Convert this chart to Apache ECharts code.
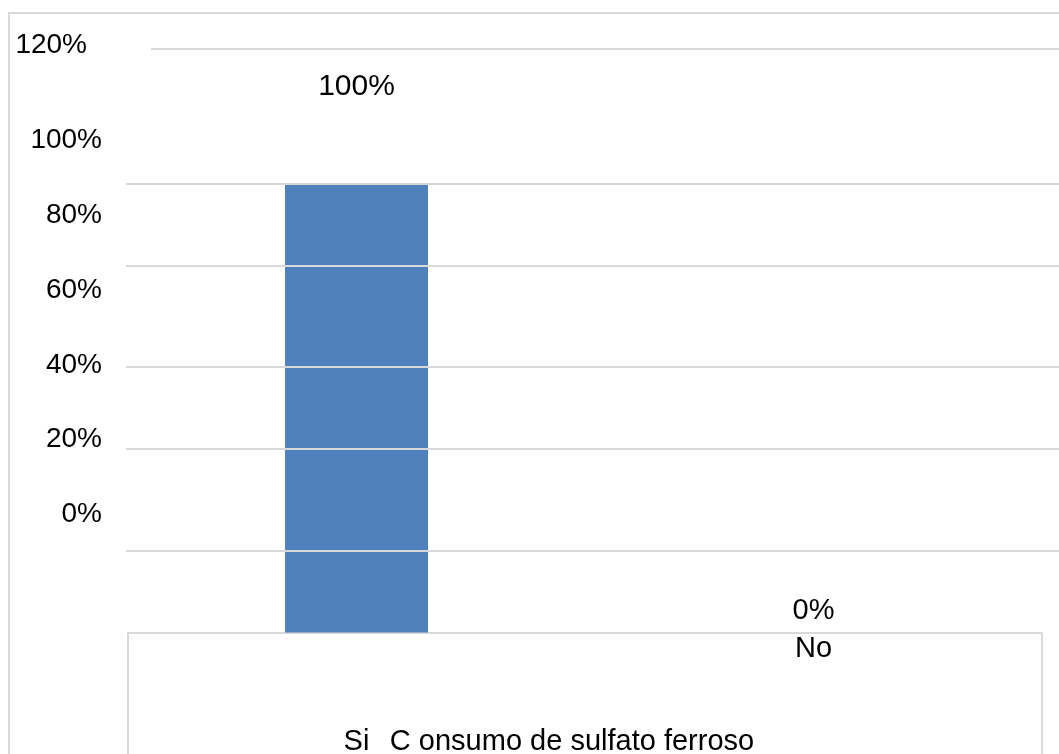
<!DOCTYPE html>
<html>
<head>
<meta charset="utf-8">
<script src="https://cdn.jsdelivr.net/npm/echarts@6/dist/echarts.min.js"></script>
<style>
  html, body { margin: 0; padding: 0; background: #fff; }
  #chart { width: 1059px; height: 754px; }
</style>
</head>
<body>
<div id="chart"></div>
<script>
// datos
const categories = ['Si', 'No'];
const percentages = [100, 0];
const yTickValues = [0, 20, 40, 60, 80, 100];
const topTickLabel = '120%';
const axisTitle = 'C onsumo de sulfato ferroso';
// lineas de la cuadricula (en % de la escala de las barras)
const gridLevels = [18.2, 41, 59.3, 81.8, 100.1, 130.3];

const FONT = "'Liberation Sans', Arial, sans-serif";
const GRAY = '#d9d9d9';

const chart = echarts.init(document.getElementById('chart'));

const option = {
  animation: false,
  textStyle: { fontFamily: FONT, color: '#000' },
  graphic: [
    {
      // marco exterior (solo se ven arriba e izquierda)
      type: 'rect',
      shape: { x: 9, y: 13, width: 1200, height: 900 },
      style: { fill: 'none', stroke: GRAY, lineWidth: 2 },
      silent: true
    }
  ],
  grid: [
    { left: 128, right: 17, top: 41, bottom: 121.5, outerBoundsMode: 'none' },
    { left: 110, width: 10, top: 140.6, bottom: 239.5, outerBoundsMode: 'none' }
  ],
  xAxis: [
    {
      type: 'category',
      gridIndex: 0,
      data: categories,
      axisLine: { show: true, lineStyle: { color: GRAY, width: 2 } },
      axisTick: {
        show: true,
        interval: (i) => i === 0,
        length: 140,
        lineStyle: { color: GRAY, width: 2 }
      },
      axisLabel: {
        interval: 0,
        margin: 2,
        fontSize: 29,
        color: '#000',
        fontFamily: FONT,
        formatter: (v) => (v === categories[0] ? '{low|' + v + '}' : v),
        rich: { low: { padding: [93, 0, 0, 0], fontSize: 29, fontFamily: FONT } }
      },
      name: axisTitle,
      nameLocation: 'middle',
      nameGap: 95,
      nameMoveOverlap: false,
      nameTextStyle: {
        fontSize: 29,
        color: '#000',
        fontFamily: FONT,
        verticalAlign: 'top',
        padding: [0, 26, 0, 0]
      }
    },
    {
      type: 'value',
      gridIndex: 1,
      show: false
    }
  ],
  yAxis: [
    {
      type: 'value',
      gridIndex: 0,
      min: 0,
      max: 132,
      show: false,
      splitLine: { show: false }
    },
    {
      type: 'value',
      gridIndex: 1,
      min: yTickValues[0],
      max: yTickValues[yTickValues.length - 1],
      interval: 20,
      axisLine: { show: false },
      axisTick: { show: false },
      splitLine: { show: false },
      axisLabel: {
        margin: 8,
        fontSize: 28,
        color: '#000',
        fontFamily: FONT,
        formatter: '{value}%'
      },
      name: topTickLabel,
      nameLocation: 'end',
      nameGap: 95,
      nameMoveOverlap: false,
      nameTextStyle: {
        fontSize: 28,
        color: '#000',
        fontFamily: FONT,
        align: 'right',
        verticalAlign: 'middle',
        padding: [0, 23, 0, 0]
      }
    }
  ],
  series: [
    {
      type: 'bar',
      xAxisIndex: 0,
      yAxisIndex: 0,
      barWidth: 143,
      clip: false,
      itemStyle: { color: '#4f81bd' },
      label: {
        show: true,
        position: 'top',
        fontSize: 29,
        color: '#000',
        fontFamily: FONT,
        formatter: '{c}%'
      },
      data: percentages.map((v) => ({
        value: v,
        label: v > 0 ? { distance: 83, fontSize: 30 } : { distance: 7 }
      })),
      markLine: {
        silent: true,
        symbol: ['none', 'none'],
        label: { show: false },
        lineStyle: { color: GRAY, width: 2, type: 'solid' },
        data: gridLevels.map((lv, i) => [
          { x: i === gridLevels.length - 1 ? 151 : 126, yAxis: lv },
          { x: 1059, yAxis: lv }
        ])
      }
    }
  ]
};

chart.setOption(option);
</script>
</body>
</html>
